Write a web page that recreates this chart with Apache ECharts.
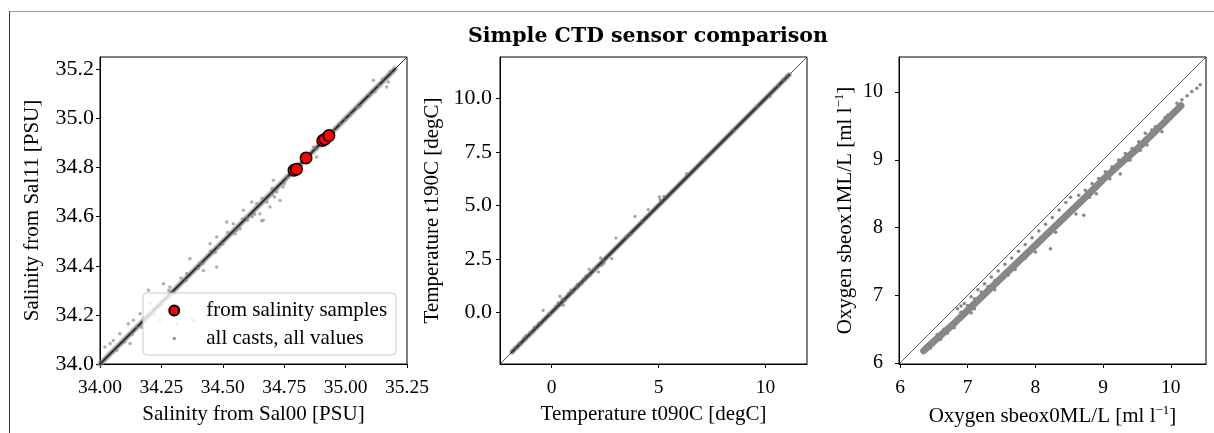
<!DOCTYPE html>
<html><head><meta charset="utf-8">
<script src="https://cdn.jsdelivr.net/npm/echarts@6/dist/echarts.min.js"></script>
<style>
html,body{margin:0;padding:0;background:#fff;}
#frame{position:absolute;left:9px;top:11px;width:1205px;height:422px;border-top:1px solid #9a9a9a;border-left:1px solid #333;box-sizing:border-box;}
#chart{position:absolute;left:0;top:0;width:1214px;height:433px;}
</style></head><body>
<div id="frame"></div>
<div id="chart"></div>
<script>
// ---------- data ----------
const titleText = 'Simple CTD sensor comparison';

// panel 1: salinity
const salXTicks = [34.00, 34.25, 34.50, 34.75, 35.00, 35.25];
const salYTicks = [34.0, 34.2, 34.4, 34.6, 34.8, 35.0, 35.2];
const salRange = [34.0, 35.25];
const salSamples = [[34.790,34.789],[34.800,34.793],[34.839,34.839],[34.907,34.910],[34.916,34.915],[34.932,34.930]];
const salCore = [[34.00,34.00],[34.60,34.598],[35.20,35.20]];
const salAll = [
 [35.113,35.155],[35.133,35.135],[35.167,35.128],[35.174,35.148],[35.180,35.190],[35.150,35.160],[35.045,35.046],
 [35.060,35.050],[34.977,34.979],[34.869,34.884],[34.882,34.843],[34.760,34.760],[34.706,34.748],[34.746,34.721],
 [34.733,34.666],[34.692,34.639],[34.638,34.653],[34.618,34.660],[34.651,34.612],[34.665,34.585],[34.584,34.626],
 [34.543,34.571],[34.556,34.544],[34.516,34.578],[34.475,34.517],[34.482,34.476],[34.448,34.490],[34.366,34.429],
 [34.475,34.395],[34.407,34.409],[34.353,34.368],[34.421,34.381],[34.285,34.314],[34.258,34.327],[34.197,34.300],
 [34.204,34.246],[34.163,34.205],[34.136,34.178],[34.115,34.164],[34.149,34.151],[34.081,34.123],[34.054,34.096],
 [34.041,34.083],[34.068,34.056],[34.020,34.069],[34.122,34.083],[34.380,34.178],[34.271,34.219],[34.312,34.164],
 [34.244,34.178],[34.658,34.583],[34.597,34.599],[34.896,34.911],[34.950,34.951],
 [34.30,34.29],[34.35,34.34],[34.42,34.41],[34.50,34.49],[34.55,34.53],[34.60,34.585],[34.62,34.60],[34.68,34.66],
 [34.70,34.69],[34.72,34.70],[34.75,34.735],[34.78,34.77],[34.82,34.81],[34.85,34.845],[34.88,34.875],[34.95,34.945],
 [35.00,34.995],[35.05,35.045],[35.10,35.095],[34.28,34.30],[34.33,34.35],[34.45,34.46],[34.52,34.535],[34.66,34.675],
 [34.70,34.715],[34.58,34.59],[34.18,34.19],[34.20,34.21],[34.22,34.20],[34.25,34.24],[34.17,34.15],[34.10,34.09],[34.13,34.12],
 [34.63,34.61],[34.71,34.68],[34.57,34.55],[34.40,34.39],[34.47,34.455],[34.91,34.90],[35.02,35.015],[35.12,35.11]
];

// panel 2: temperature
const tmpXTicks = [0, 5, 10];
const tmpYTicks = [0.0, 2.5, 5.0, 7.5, 10.0];
const tmpRange = [-2.41, 11.94];
const tmpCore = [[-1.85,-1.85],[4.5,4.5],[11.1,11.1]];
const tmpAll = [
 [3.90,4.49],[4.52,4.81],[3.01,3.48],[5.04,5.40],[5.25,5.43],[5.07,5.27],[6.31,6.49],[2.81,2.52],[2.29,2.55],
 [2.19,1.89],[1.76,2.02],[0.39,0.76],[0.55,0.34],[-0.39,0.10],[10.21,10.10],[10.83,10.88],[2.00,1.95],[1.50,1.55],
 [1.20,1.30],[0.80,0.90],[0.20,0.30],[-0.60,-0.50],[-1.00,-0.95],[-1.30,-1.20],[-1.50,-1.45],[-1.70,-1.65],[0.60,0.55],
 [1.00,0.95],[1.80,1.75],[2.40,2.45],[3.50,3.55],[3.70,3.65],[-0.10,-0.05],[0.50,0.62],[1.40,1.35],[2.05,2.10],
 [4.20,4.25],[7.10,7.15],[8.50,8.52],[9.60,9.62],[11.00,11.05],[10.60,10.58],[2.35,2.20],[2.45,2.30],[1.17,1.19],
 [-0.80,-0.70],[-1.20,-1.10],[0.30,0.45],[0.90,1.05],[1.60,1.70]
];

// panel 3: oxygen
const oxyXTicks = [6, 7, 8, 9, 10];
const oxyYTicks = [6, 7, 8, 9, 10];
const oxyRange = [5.985, 10.52];
const oxyCore = [[6.35,6.18],[6.50,6.32],[6.75,6.54],[7.00,6.78],[7.25,7.02],[7.50,7.26],[7.75,7.50],[8.00,7.74],
 [8.25,7.98],[8.50,8.22],[8.75,8.46],[9.00,8.71],[9.25,8.94],[9.50,9.16],[9.75,9.40],[10.00,9.65],[10.15,9.80]];
const oxyAll = [
 [10.434,10.11],[10.385,10.06],[10.31,10.01],[10.24,9.946],[10.164,9.887],[10.09,9.838],[10.066,9.749],[9.957,9.665],
 [9.918,9.63],[9.869,9.541],[9.869,9.417],[9.77,9.49],[9.72,9.44],[9.623,9.392],[9.648,9.219],[9.525,9.269],
 [9.427,9.17],[9.377,8.997],[9.328,9.096],[9.23,8.997],[9.254,8.79],[9.131,8.898],[9.033,8.824],[8.935,8.725],
 [8.886,8.601],[8.837,8.651],[8.738,8.552],[8.714,8.181],[8.64,8.478],[8.222,7.686],
 [6.85,6.80],[6.90,6.84],[6.95,6.88],[7.05,6.98],[7.15,7.08],[7.25,7.17],[7.35,7.27],[7.45,7.36],[7.55,7.46],
 [7.65,7.55],[7.75,7.65],[7.85,7.75],[7.95,7.85],[8.05,7.95],[8.15,8.05],[8.25,8.15],[8.35,8.26],[8.45,8.37],[8.52,8.45],
 [6.90,6.75],[7.00,6.85],[7.10,6.95],[7.20,7.05],[7.30,7.13],[7.40,7.22],
 [6.45,6.22],[6.60,6.35],[6.80,6.52],[7.10,6.80],[7.40,7.08],[7.70,7.38],[8.00,7.64],[8.30,7.93],[8.60,8.20],
 [8.90,8.50],[9.10,8.72],[9.40,9.00],[9.60,9.22],
 [6.40,6.26],[6.55,6.42],[6.65,6.50],[6.70,6.44],[6.95,6.70],[7.05,6.74],[7.60,7.30],[7.85,7.55],[8.10,7.80],
 [8.40,8.10],[8.80,8.45],[9.20,8.86],[9.55,9.14],[9.85,9.49]
];

// ---------- chart ----------
const SERIF = 'Liberation Serif';
const NAME = 21;
const grids = [
  {left:100, top:57, width:307, height:307},
  {left:500, top:57, width:307, height:307},
  {left:899, top:57, width:307, height:307}
].map(g => Object.assign(g, {show:true, borderColor:'#000', borderWidth:1, backgroundColor:'transparent'}));

const richName = {
  n: {fontFamily:SERIF, fontSize:NAME, color:'#000', lineHeight:24},
  sup: {fontFamily:SERIF, fontSize:13, color:'#000', verticalAlign:'top', lineHeight:14}
};

function axis(gi, range, ticks, dec, name, gap, lblSize, margin) {
  return {
    type:'value', gridIndex:gi, min:range[0], max:range[1], name:name,
    nameLocation:'middle', nameGap:gap,
    nameTextStyle:{fontFamily:SERIF, fontSize:NAME, color:'#000', rich:richName},
    axisLine:{show:true, onZero:false, lineStyle:{color:'#000', width:1}},
    axisTick:{show:true, inside:false, length:4, lineStyle:{color:'#000', width:1}, customValues:ticks},
    axisLabel:{show:true, customValues:ticks, formatter:v => Number(v).toFixed(dec),
      fontFamily:SERIF, fontSize:lblSize, color:'#000', margin:margin},
    splitLine:{show:false}
  };
}
const xAxes = [
  axis(0, salRange, salXTicks, 2, 'Salinity from Sal00 [PSU]', 40, 19.5, 14),
  axis(1, tmpRange, tmpXTicks, 0, 'Temperature t090C [degC]', 40, 19.5, 14),
  axis(2, oxyRange, oxyXTicks, 0, '{n|Oxygen sbeox0ML/L [ml l}{sup|\u22121}{n|]}', 40, 19.5, 14)
];
const yAxes = [
  axis(0, salRange, salYTicks, 1, 'Salinity from Sal11 [PSU]', 57, 22, 6),
  axis(1, tmpRange, tmpYTicks, 1, 'Temperature t190C [degC]', 57, 22, 8),
  axis(2, oxyRange, oxyYTicks, 0, '{n|Oxygen sbeox1ML/L [ml l}{sup|\u22121}{n|]}', 42, 20, 16)
];

function lineS(i, data, color, width, z) {
  return {type:'line', xAxisIndex:i, yAxisIndex:i, data:data, symbol:'none', silent:true, z:z||2,
    lineStyle:{color:color, width:width, cap:'round'}, animation:false};
}
function scatS(i, data, name, color, size, z) {
  return {type:'scatter', name:name, xAxisIndex:i, yAxisIndex:i, data:data, symbol:'circle', symbolSize:size,
    silent:true, z:z||2, itemStyle:{color:color, opacity:1}, animation:false};
}

const series = [
  lineS(0, salCore, 'rgba(140,140,140,0.55)', 6),
  scatS(0, salAll, 'all casts, all values', 'rgba(128,128,128,0.62)', 3.5),
  lineS(0, salCore, '#4d4d4d', 2.8),
  lineS(0, [[salRange[0],salRange[0]],[salRange[1],salRange[1]]], '#222', 1),
  {type:'scatter', name:'from salinity samples', xAxisIndex:0, yAxisIndex:0, data:salSamples, symbol:'circle',
   symbolSize:11.5, silent:true, z:3, itemStyle:{color:'#ff0000', borderColor:'#000', borderWidth:1.5, opacity:1}, animation:false},

  lineS(1, tmpCore, 'rgba(128,128,128,0.55)', 5.5),
  scatS(1, tmpAll, 't', 'rgba(110,110,110,0.65)', 3.2),
  lineS(1, tmpCore, '#4d4d4d', 3),
  lineS(1, [[tmpRange[0],tmpRange[0]],[tmpRange[1],tmpRange[1]]], '#222', 0.8),

  scatS(2, oxyAll, 'o', '#878787', 3.5),
  lineS(2, oxyCore, '#878787', 7),
  lineS(2, [[oxyRange[0],oxyRange[0]],[oxyRange[1],oxyRange[1]]], '#333', 0.8)
];

const chart = echarts.init(document.getElementById('chart'), null, {renderer:'canvas'});
chart.setOption({
  animation:false,
  backgroundColor:'transparent',
  title:{text:titleText, left:468, top:26, padding:0,
    textStyle:{fontFamily:'DejaVu Serif', fontWeight:'bold', fontSize:20.5, color:'#000'}},
  grid:grids,
  xAxis:xAxes,
  yAxis:yAxes,
  legend:{
    orient:'vertical', left:143, top:293, padding:[7,9,6,23], itemGap:7,
    itemWidth:10, itemHeight:10,
    backgroundColor:'rgba(255,255,255,0.8)', borderColor:'#cccccc', borderWidth:1, borderRadius:4,
    textStyle:{fontFamily:SERIF, fontSize:NAME, color:'#000', lineHeight:20, padding:[0,0,0,22]},
    selectedMode:false,
    data:[
      {name:'from salinity samples', icon:'circle'},
      {name:'all casts, all values', icon:'circle',
       itemStyle:{color:'rgba(128,128,128,0.85)', borderColor:'#ffffff', borderWidth:6.5, opacity:1}}
    ]
  },
  series:series
});
</script>
</body></html>
